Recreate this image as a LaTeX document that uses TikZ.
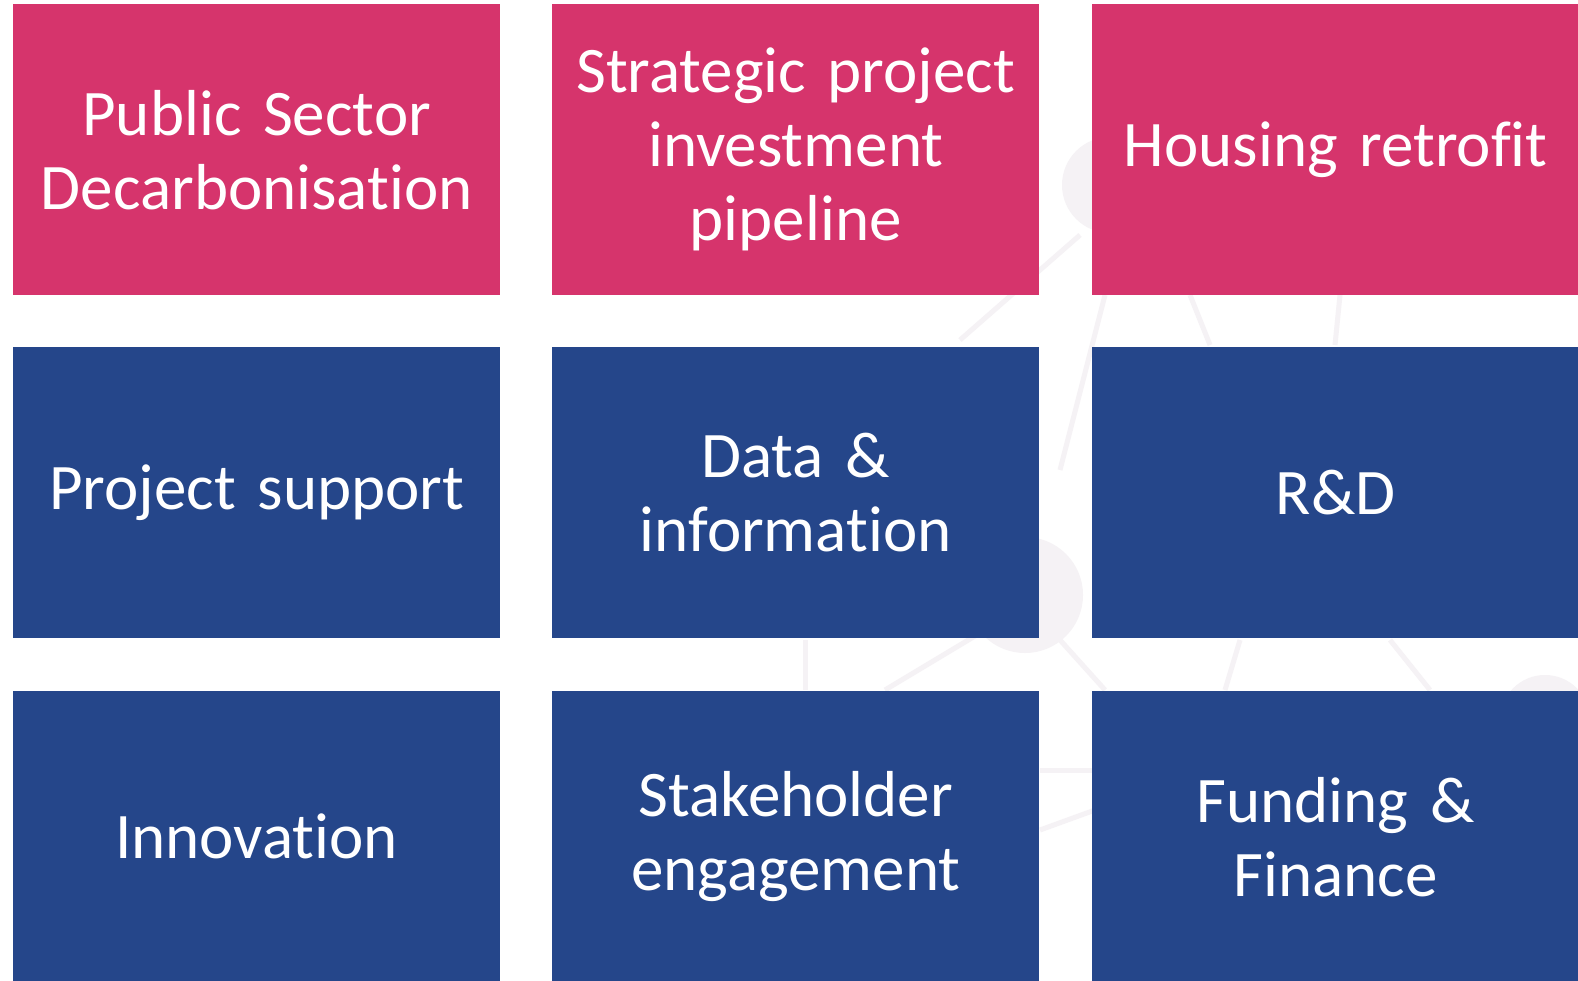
\documentclass[tikz,border=0pt]{standalone}
\usepackage{fontspec}
\setmainfont[Ligatures={NoCommon}]{Carlito}
\definecolor{pinkbox}{RGB}{214,52,108}
\definecolor{bluebox}{RGB}{37,70,138}
\definecolor{faint}{RGB}{245,242,245}
\begin{document}
\begin{tikzpicture}[x=1pt,y=-1pt,
  tile/.style={anchor=north west,inner sep=0pt,minimum width=487pt,minimum height=291pt,
    text=white,align=center,text width=485pt,font=\fontsize{65}{74}\selectfont},
  ptile/.style={tile,fill=pinkbox},
  btile/.style={tile,fill=bluebox},
  deco/.style={draw=faint,line width=5pt}]
\useasboundingbox (0,0) rectangle (1578,981);
\fill[white] (0,0) rectangle (1578,981);
% faint background network
\fill[faint] (1110,185) circle (48);
\draw[deco] (1080,235) -- (960,340);
\draw[deco] (1105,295) -- (1060,470);
\draw[deco] (1190,295) -- (1210,345);
\draw[deco] (1340,295) -- (1335,345);
\fill[faint] (1025,595) circle (58);
\draw[deco] (1060,640) -- (1105,690);
\draw[deco] (985,630) -- (885,690);
\draw[deco] (805,640) -- (805,690);
\draw[deco] (1240,640) -- (1225,690);
\draw[deco] (1390,640) -- (1430,690);
\fill[faint] (1545,720) circle (45);
\draw[deco] (1040,770) -- (1095,770);
\draw[deco] (1040,830) -- (1095,810);
% tiles
\node[ptile] (a1) at (13,4) {Public Sector\\Decarbonisation};
\node[ptile] (a2) at (552,4) {Strategic project\\investment\\pipeline};
\node[ptile] (a3) at (1092,4) {Housing retrofit};
\node[btile] (b1) at (13,347) {Project support};
\node[btile] (b2) at (552,347) {Data \&\\information};
\node[btile] (b3) at (1092,347) {R\&D};
\node[btile] (c1) at (13,691) {Innovation};
\node[btile] (c2) at (552,691) {Stakeholder\\engagement};
\node[btile] (c3) at (1092,691) {Funding \&\\Finance};
\end{tikzpicture}
\end{document}
